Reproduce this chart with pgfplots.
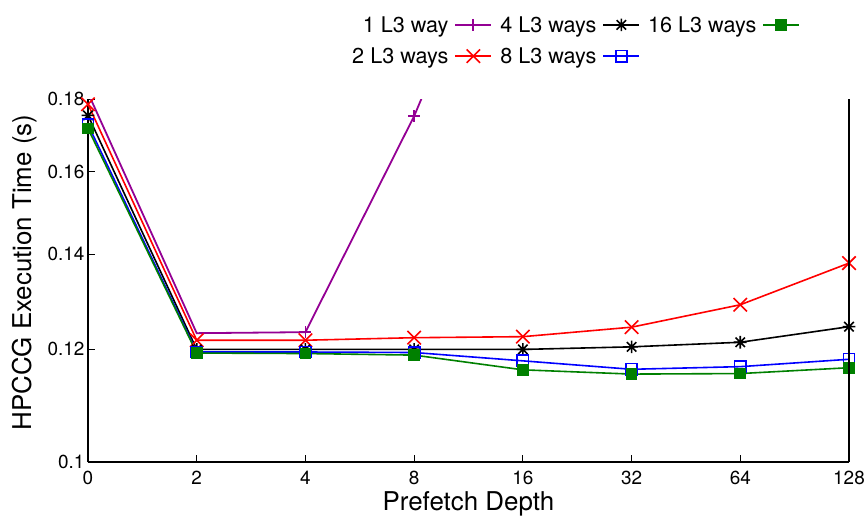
\documentclass[border=0pt]{standalone}
\usepackage{fontspec}
\setmainfont{TeX Gyre Heros}
\usepackage{pgfplots}
\pgfplotsset{compat=1.18}
\definecolor{gppurple}{rgb}{0.58,0,0.58}
\definecolor{gpgreen}{rgb}{0,0.5,0}
\pgfdeclareplotmark{gpstar}{%
  \pgfpathmoveto{\pgfqpoint{\pgfplotmarksize}{0pt}}\pgfpathlineto{\pgfqpoint{-\pgfplotmarksize}{0pt}}%
  \pgfpathmoveto{\pgfqpoint{0pt}{\pgfplotmarksize}}\pgfpathlineto{\pgfqpoint{0pt}{-\pgfplotmarksize}}%
  \pgfpathmoveto{\pgfqpoint{.75\pgfplotmarksize}{.75\pgfplotmarksize}}\pgfpathlineto{\pgfqpoint{-.75\pgfplotmarksize}{-.75\pgfplotmarksize}}%
  \pgfpathmoveto{\pgfqpoint{-.75\pgfplotmarksize}{.75\pgfplotmarksize}}\pgfpathlineto{\pgfqpoint{.75\pgfplotmarksize}{-.75\pgfplotmarksize}}%
  \pgfusepathqstroke}
\pgfplotsset{
  sA/.style={color=gppurple, line width=1.8bp, mark=+, mark size=6bp, mark options={solid}},
  sB/.style={color=red, line width=1.6bp, mark=x, mark size=9.5bp, mark options={solid}},
  sC/.style={color=black, line width=1.6bp, mark=gpstar, mark size=6.3bp, mark options={solid}},
  sD/.style={color=blue, line width=1.6bp, mark=square, mark size=5.6bp, mark options={solid}},
  sE/.style={color=gpgreen, line width=1.6bp, mark=square*, mark size=5bp, mark options={solid, fill=gpgreen}},
}
\begin{document}
\begin{tikzpicture}
\begin{axis}[
  at={(0,0)}, anchor=south west,
  scale only axis, width=761bp, height=363bp,
  ymode=log, ymin=0.1, ymax=0.18, xmin=0, xmax=7,
  xtick={0,...,7}, xticklabels={0,2,4,8,16,32,64,128},
  ytick={0.1,0.12,0.14,0.16,0.18}, yticklabels={0.1,0.12,0.14,0.16,0.18},
  minor tick num=0,
  axis x line*=bottom, axis y line*=left,
  axis line style={-, line width=1.3bp},
  tick align=inside, major tick length=7bp, tick style={line width=1bp, black},
  ticklabel style={font=\fontsize{19}{22}\selectfont},
  xticklabel style={yshift=-6bp},
  /pgf/number format/assume math mode=true,
  xlabel={Prefetch Depth}, ylabel={HPCCG Execution Time (s)},
  label style={font=\fontsize{26}{30}\selectfont},
  xlabel style={at={(axis description cs:0.5,0)}, anchor=base, yshift=-48bp},
  ylabel style={at={(axis description cs:-0.0744,0.522)}, anchor=base},
  legend columns=3, legend cell align=right, legend plot pos=right,
  legend image code/.code={\draw[mark repeat=2,mark phase=2] plot coordinates {(0bp,0bp)(18bp,0bp)(36bp,0bp)};},
  legend style={draw=none, fill=none, at={(0.9356,1.2335)}, anchor=north east,
    inner sep=0pt, outer sep=0pt, row sep=10bp,
    font=\fontsize{21.7}{26}\selectfont,
    nodes={inner sep=2bp},
    /tikz/every odd column/.append style={column sep=4bp},
    /tikz/every even column/.append style={column sep=6bp}},
]
\addlegendimage{sA}\addlegendentry{1 L3 way}
\addlegendimage{sC}\addlegendentry{4 L3 ways}
\addlegendimage{sE}\addlegendentry{16 L3 ways}
\addlegendimage{sB}\addlegendentry{2 L3 ways}
\addlegendimage{sD}\addlegendentry{8 L3 ways}
\addplot[sA, forget plot, mark indices={2,3,4}] coordinates {(0,0.1818) (1,0.1232) (2,0.1234) (3,0.1751) (4,0.266)};
\addplot[sB, forget plot] coordinates {(0,0.1785) (1,0.1218) (2,0.1218) (3,0.1223) (4,0.1225) (5,0.1244) (6,0.1290) (7,0.1380)};
\addplot[sC, forget plot] coordinates {(0,0.1753) (1,0.1200) (2,0.1200) (3,0.1200) (4,0.1200) (5,0.1205) (6,0.1214) (7,0.1245)};
\addplot[sD, forget plot] coordinates {(0,0.1727) (1,0.1195) (2,0.1195) (3,0.1194) (4,0.1178) (5,0.1162) (6,0.1167) (7,0.1181)};
\addplot[sE, forget plot] coordinates {(0,0.1716) (1,0.1193) (2,0.1192) (3,0.1189) (4,0.1161) (5,0.1153) (6,0.1154) (7,0.1165)};
\end{axis}
\draw[line width=1.3bp] (761bp,0bp) -- (761bp,363bp);
\pgfresetboundingbox
\path[use as bounding box] (-88bp,-54bp) rectangle (777bp,462bp);
\end{tikzpicture}
\end{document}
